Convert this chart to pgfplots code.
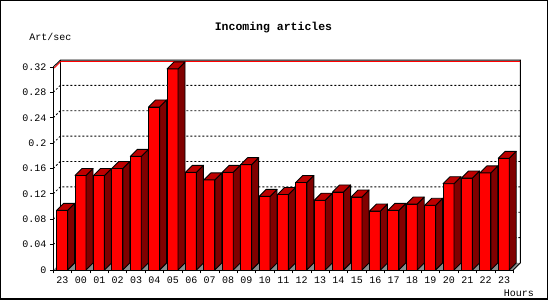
\documentclass[border=0pt]{standalone}
\usepackage{fontspec}
\setmainfont{Liberation Mono}
\usepackage{pgfplots}
\pgfplotsset{compat=1.18}
\usepackage{pgfplotstable}
\usetikzlibrary{backgrounds}
\definecolor{frontcol}{RGB}{255,0,0}
\definecolor{sidecol}{RGB}{128,0,0}
\definecolor{topcol}{RGB}{190,0,0}
\definecolor{floorcol}{RGB}{140,140,140}
\pgfdeclareplotmark{none3d}{}
\pgfplotstableread{
x v
0.48 0.094
1.48 0.149
2.48 0.149
3.48 0.160
4.48 0.179
5.48 0.257
6.48 0.317
7.48 0.154
8.48 0.142
9.48 0.154
10.48 0.166
11.48 0.116
12.48 0.119
13.48 0.138
14.48 0.110
15.48 0.123
16.48 0.115
17.48 0.093
18.48 0.094
19.48 0.104
20.48 0.102
21.48 0.136
22.48 0.145
23.48 0.153
24.48 0.176
}\data
\begin{document}
\begin{tikzpicture}[x=1pt,y=1pt]
\begin{axis}[
  scale only axis, width=460pt, height=203pt,
  xmin=0, xmax=25, ymin=0, ymax=0.32,
  axis x line*=bottom, axis y line*=left,
  axis line style={line width=0.9pt, black},
  clip=false,
  xtick={0,1,...,25},
  x tick label as interval,
  xticklabels={23,00,01,02,03,04,05,06,07,08,09,10,11,12,13,14,15,16,17,18,19,20,21,22,23},
  ytick={0,0.04,0.08,0.12,0.16,0.2,0.24,0.28,0.32},
  tick align=outside,
  major tick length=3.5pt,
  tick style={black,line width=0.8pt},
  yticklabel style={/pgf/number format/fixed,/pgf/number format/precision=2},
  /pgf/number format/assume math mode=true,
  tick label style={font=\fontsize{10}{12}\selectfont},
]
\coordinate (O) at (axis cs:0,0);
\addplot[ybar, bar width=11pt, bar shift=0pt, fill=frontcol, draw=black, line width=0.9pt] table[x=x,y=v]{\data};
\addplot[scatter, only marks, mark=none3d,
  visualization depends on={y \as \val},
  scatter/@pre marker code/.code={%
    \pgfkeys{/pgf/fpu=true,/pgf/fpu/output format=fixed}%
    \pgfmathparse{\val*634.375}\global\let\hh\pgfmathresult
    \pgfkeys{/pgf/fpu=false}%
    \filldraw[fill=sidecol,draw=black,line width=0.9pt,line join=round] (5.5pt,0pt) -- (12.5pt,7pt) -- (12.5pt,{7pt-\hh pt}) -- (5.5pt,{-\hh pt}) -- cycle;
    \filldraw[fill=topcol,draw=black,line width=0.9pt,line join=round] (-5.5pt,0pt) -- (5.5pt,0pt) -- (12.5pt,7pt) -- (1.5pt,7pt) -- cycle;
  },
  scatter/@post marker code/.code={},
] table[x=x,y=v]{\data};
\end{axis}
\begin{scope}[on background layer, shift={(O)}]
% floor
\fill[floorcol] (0,0) -- (460,0) -- (467,7) -- (7,7) -- cycle;
% back grid
\foreach \v in {0.04,0.08,0.12,0.16,0.2,0.24,0.28} {
  \draw[line width=0.8pt, dash pattern=on 2pt off 2pt] (0,{\v*634.375}) -- (7,{7+\v*634.375}) -- (467,{7+\v*634.375});
}
% back box
\draw[line width=0.9pt] (0,203) -- (7,209.8) -- (467,209.8) -- (467,7) -- (460,0);
\draw[line width=0.9pt] (7,7) -- (7,209.8);
\draw[red,line width=0.9pt] (0.9,201.9) -- (7.5,208.5) -- (466.7,208.5);
\end{scope}
\begin{scope}[shift={(O)}]
\path (-53.3,-30) rectangle (496.7,270);
\node[anchor=base, font=\bfseries\fontsize{11.5}{13}\selectfont] at (220.2,239.3) {Incoming articles};
\node[anchor=base, font=\fontsize{10}{12}\selectfont] at (-2.8,229.3) {Art/sec};
\node[anchor=base, font=\fontsize{10}{12}\selectfont] at (465.7,-26.5) {Hours};
\draw[line width=1.5pt] (-52.55,-28.8) rectangle (494.3,269.25);
\end{scope}
\end{tikzpicture}
\end{document}
